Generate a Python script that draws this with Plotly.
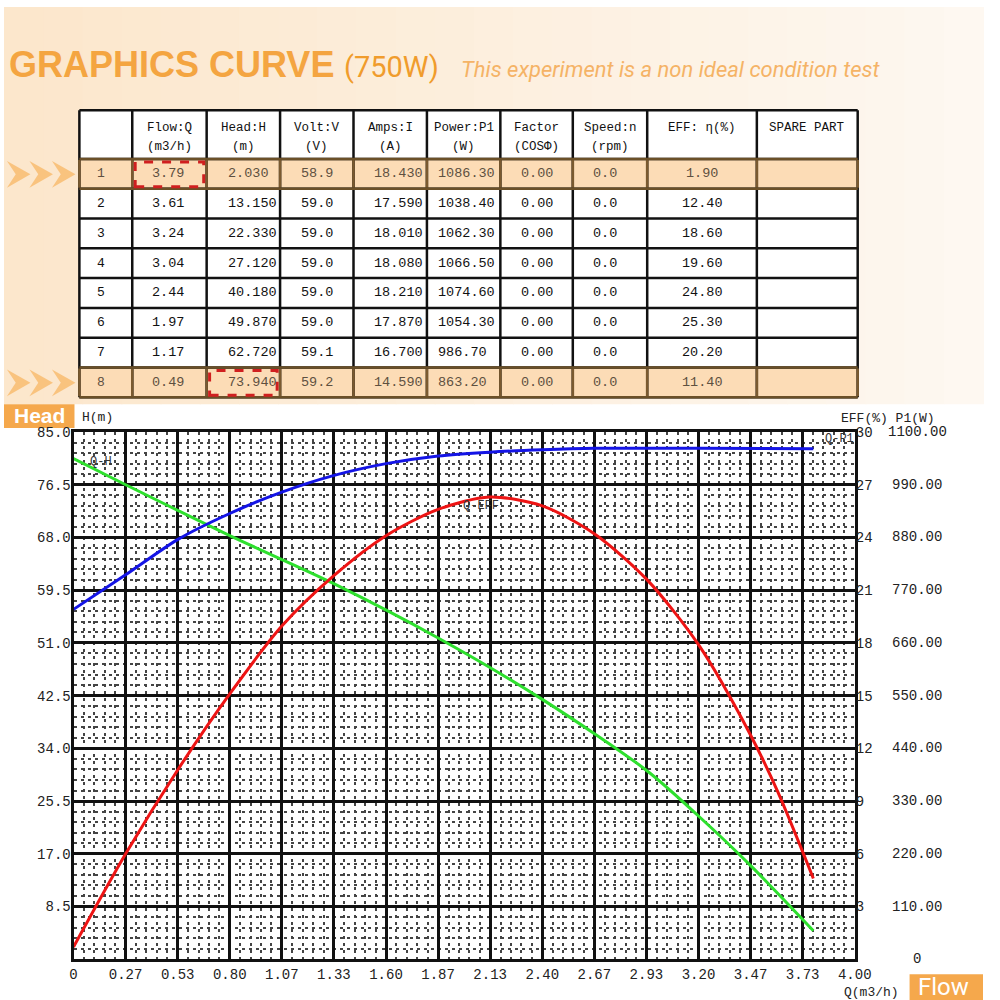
import plotly.graph_objects as go

# ---------------- data ----------------
row_no = [1, 2, 3, 4, 5, 6, 7, 8]
flow = [3.79, 3.61, 3.24, 3.04, 2.44, 1.97, 1.17, 0.49]
head = [2.030, 13.150, 22.330, 27.120, 40.180, 49.870, 62.720, 73.940]
volt = [58.9, 59.0, 59.0, 59.0, 59.0, 59.0, 59.1, 59.2]
amps = [18.430, 17.590, 18.010, 18.080, 18.210, 17.870, 16.700, 14.590]
power = [1086.30, 1038.40, 1062.30, 1066.50, 1074.60, 1054.30, 986.70, 863.20]
factor = [0.00, 0.00, 0.00, 0.00, 0.00, 0.00, 0.00, 0.00]
speed = [0.0, 0.0, 0.0, 0.0, 0.0, 0.0, 0.0, 0.0]
eff = [1.90, 12.40, 18.60, 19.60, 24.80, 25.30, 20.20, 11.40]

headers = [("", ""), ("Flow:Q", "(m3/h)"), ("Head:H", "(m)"), ("Volt:V", "(V)"),
           ("Amps:I", "(A)"), ("Power:P1", "(W)"), ("Factor", "(COSΦ)"),
           ("Speed:n", "(rpm)"), ("EFF: η(%)", ""), ("SPARE PART", "")]

# curves
qh_flow = [0.0, 0.267, 0.80, 1.33, 1.867, 2.40, 2.936, 3.20, 3.467, 3.788]
qh_head = [80.7, 76.5, 68.3, 60.6, 51.8, 41.9, 30.4, 23.1, 15.1, 4.6]

qp_flow = [0.0, 0.267, 0.535, 0.80, 1.07, 1.33, 1.60, 1.867, 2.13, 2.40, 2.668, 3.20, 3.788]
qp_power = [730, 802, 876, 930, 975, 1009, 1034, 1050, 1058, 1063, 1066, 1066, 1065]

qe_flow = [0.0, 0.267, 0.535, 0.80, 1.07, 1.33, 1.60, 1.867, 2.13, 2.40, 2.668,
           2.936, 3.20, 3.467, 3.605, 3.788]
qe_eff = [0.7, 6.0, 10.8, 15.1, 19.0, 21.8, 24.1, 25.6, 26.3, 25.8, 24.2,
          21.6, 17.9, 12.75, 9.55, 4.6]

x_tick_labels = ["0", "0.27", "0.53", "0.80", "1.07", "1.33", "1.60", "1.87", "2.13", "2.40",
                 "2.67", "2.93", "3.20", "3.47", "3.73", "4.00"]
h_tick_labels = ["8.5", "17.0", "25.5", "34.0", "42.5", "51.0", "59.5", "68.0", "76.5", "85.0"]
eff_tick_labels = ["3", "6", "9", "12", "15", "18", "21", "24", "27", "30"]
p1_tick_labels = ["0", "110.00", "220.00", "330.00", "440.00", "550.00", "660.00", "770.00",
                  "880.00", "990.00", "1100.00"]

# ---------------- helpers ----------------
def PX(x):
    return x / 1000.0

def PY(y):
    return 1 - y / 1000.0

shapes = []
annotations = []

def rect(x0, y0, x1, y1, fill=None, line_color=None, line_width=0, dash=None, opacity=1):
    s = dict(type="rect", xref="paper", yref="paper", x0=PX(x0), x1=PX(x1), y0=PY(y1), y1=PY(y0),
             line=dict(width=line_width, color=line_color or "rgba(0,0,0,0)"), opacity=opacity,
             layer="below")
    if fill:
        s["fillcolor"] = fill
    if dash:
        s["line"]["dash"] = dash
        s["layer"] = "above"
    shapes.append(s)

def line(x0, y0, x1, y1, color="#111", width=2.5, layer="above"):
    shapes.append(dict(type="line", xref="paper", yref="paper", x0=PX(x0), x1=PX(x1),
                       y0=PY(y0), y1=PY(y1), line=dict(color=color, width=width), layer=layer))

def text(t, x, y, size=13, color="#111", family="Liberation Mono", xanchor="center",
         yanchor="middle", xref="paper", yref="paper", **kw):
    annotations.append(dict(text=t, x=PX(x) if xref == "paper" else x,
                            y=PY(y) if yref == "paper" else y,
                            xref=xref, yref=yref, showarrow=False, xanchor=xanchor, yanchor=yanchor,
                            font=dict(size=size, color=color, family=family), **kw))

# ---------------- background ----------------
n_strips = 25
c0 = (252, 231, 204)
c1 = (254, 248, 241)
for i in range(n_strips):
    t = i / (n_strips - 1)
    c = tuple(int(c0[k] + (c1[k] - c0[k]) * t) for k in range(3))
    rect(i * 1000 / n_strips, 0, (i + 1) * 1000 / n_strips + 1, 400, fill="rgb(%d,%d,%d)" % c)

# ---------------- title ----------------
text("<b>GRAPHICS CURVE</b>", 3, 58, size=36, color="#f4a541",
     family="Liberation Sans, Arial", xanchor="left")
text("(750W)", 345, 60, size=29, color="#f09c2c", family="Roboto", xanchor="left")
text("<i>This experiment is a non ideal condition test</i>", 465, 63, size=22, color="#f5b366",
     family="Roboto", xanchor="left")

# ---------------- table ----------------
col_x = [77, 131, 207, 282, 357, 432, 507, 581, 657, 769, 872]
row_y = [104, 153, 183, 213, 243, 273, 303, 333, 363, 393]
hl_rows = [0, 7]

rect(col_x[0], row_y[0], col_x[-1], row_y[-1], fill="white")
for r in hl_rows:
    rect(col_x[0], row_y[r + 1], col_x[-1], row_y[r + 2], fill="#fcdcb6")

for x in col_x:
    line(x, row_y[0], x, row_y[-1])
for y in row_y:
    line(col_x[0], y, col_x[-1], y)
for r in hl_rows:
    ya, yb = row_y[r + 1], row_y[r + 2]
    for x in col_x:
        line(x, ya + 1, x, yb - 1, color="#7a5a30", width=2.5)
    line(col_x[0], ya, col_x[-1], ya, color="#6b5028", width=2.5)
    line(col_x[0], yb, col_x[-1], yb, color="#6b5028", width=2.5)

# red dashed boxes
rect(134, 156, 204, 181, line_color="#d01f1f", line_width=3, dash="dash")
rect(210, 366, 279, 391, line_color="#d01f1f", line_width=3, dash="dash")

# chevrons
for (ya, yb) in [(155, 182), (365, 392)]:
    yc = (ya + yb) / 2
    for x0 in [3, 26, 49]:
        w = 24
        notch = 9
        path = "M %f,%f L %f,%f L %f,%f L %f,%f Z" % (
            PX(x0), PY(ya), PX(x0 + w), PY(yc), PX(x0), PY(yb), PX(x0 + notch), PY(yc))
        shapes.append(dict(type="path", xref="paper", yref="paper", path=path,
                           fillcolor="#f8bf76", line=dict(width=0), opacity=0.9, layer="above"))

# headers
for i, (h1, h2) in enumerate(headers):
    cx = (col_x[i] + col_x[i + 1]) / 2
    if h2:
        text(h1, cx, 122, size=12.5)
        text(h2, cx, 141, size=12.5)
    elif h1:
        text(h1, cx, 122, size=12.5)

# body
fmt_cols = [
    (flow, "%.2f", 149, "left"),
    (head, "%.3f", 227, "left"),
    (volt, "%.1f", 301, "left"),
    (amps, "%.3f", 376, "left"),
    (power, "%.2f", 441, "left"),
    (factor, "%.2f", 526, "left"),
    (speed, "%.1f", 600, "left"),
    (eff, "%.2f", 713, "center"),
]
for r in range(len(row_no)):
    yc = (row_y[r + 1] + row_y[r + 2]) / 2
    col = "#5e5040" if r in hl_rows else "#111"
    text(str(row_no[r]), 99, yc, size=13, color=col)
    for vals, f, x, anc in fmt_cols:
        text(f % vals[r], x, yc, size=13.5, color=col, xanchor=anc)

# ---------------- chart labels ----------------
rect(0, 400, 72, 424, fill="#f5a84c")
text("<b>Head</b>", 36, 411, size=21, color="white", family="Liberation Sans, Arial")
rect(925, 974, 1000, 1000, fill="#f5a84c")
text("Flow", 960, 987, size=24, color="white", family="Roboto")

text("H(m)", 78, 413, size=13, color="#222", xanchor="left")
text("EFF(%) P1(W)", 953, 414, size=13, color="#222", xanchor="right")
text("Q(m3/h)", 916, 992, size=13, color="#222", xanchor="right")

# curve labels (data coordinates)
text("Q-H", 0.14, 80.2, size=12, color="#333", xref="x", yref="y")
text("Q-EFF", 2.085, 25.8, size=12, color="#333", xref="x", yref="y2")
text("Q-P1", 3.92, 1085, size=12, color="#333", xref="x", yref="y3")

# P1 tick labels on the far right
for lab in p1_tick_labels:
    v = float(lab)
    annotations.append(dict(text=lab, x=PX(933), y=v, xref="paper", yref="y3", showarrow=False,
                            xanchor="center", yanchor="middle",
                            font=dict(size=14, color="#222", family="Liberation Mono")))

# ---------------- figure ----------------
fig = go.Figure()
fig.add_trace(go.Scatter(x=qh_flow, y=qh_head, mode="lines",
                         line=dict(color="#2ee02e", width=3, shape="spline", smoothing=0.8),
                         yaxis="y", name="Q-H"))
fig.add_trace(go.Scatter(x=qp_flow, y=qp_power, mode="lines",
                         line=dict(color="#1414e6", width=3, shape="spline", smoothing=0.8),
                         yaxis="y3", name="Q-P1"))
fig.add_trace(go.Scatter(x=qe_flow, y=qe_eff, mode="lines",
                         line=dict(color="#ee1414", width=3, shape="spline", smoothing=0.8),
                         yaxis="y2", name="Q-EFF"))

n_x = len(x_tick_labels) - 1
x_major = [4.0 * i / n_x for i in range(n_x + 1)]
x_minor = [4.0 * i / (n_x * 5) for i in range(n_x * 5 + 1) if i % 5]
h_major = [float(v) for v in h_tick_labels]
h_minor = [85.0 * i / 50 for i in range(51) if i % 5]
eff_vals = [float(v) for v in eff_tick_labels]

tickfont = dict(size=14, color="#222", family="Liberation Mono")
grid_minor = dict(showgrid=True, gridcolor="#444", gridwidth=1.5, griddash="3px,4px", ticks="")

fig.update_layout(
    width=1000, height=1000, autosize=False,
    margin=dict(l=0, r=0, t=0, b=0),
    paper_bgcolor="white", plot_bgcolor="white",
    showlegend=False,
    shapes=shapes, annotations=annotations,
    xaxis=dict(domain=[PX(71), PX(869)], range=[0, 4], tickvals=x_major, ticktext=x_tick_labels,
               showgrid=True, gridcolor="#111", gridwidth=2.5, zeroline=False,
               showline=True, linecolor="#111", linewidth=3, mirror=True,
               ticks="", tickfont=tickfont, ticklabelstandoff=0,
               minor=dict(tickvals=x_minor, **grid_minor), fixedrange=True),
    yaxis=dict(domain=[PY(959), PY(428)], range=[0, 85], tickvals=h_major, ticktext=h_tick_labels,
               showgrid=True, gridcolor="#111", gridwidth=2.5, zeroline=False,
               showline=True, linecolor="#111", linewidth=3, mirror=True,
               ticks="", tickfont=tickfont, ticklabelstandoff=-3,
               minor=dict(tickvals=h_minor, **grid_minor), fixedrange=True),
    yaxis2=dict(overlaying="y", side="right", range=[0, 30], tickvals=eff_vals, ticktext=eff_tick_labels,
                showgrid=False, zeroline=False, showline=False, ticks="", tickfont=tickfont,
                anchor="x", fixedrange=True),
    yaxis3=dict(overlaying="y", range=[0, 1100], visible=False, fixedrange=True),
)

post = (
    "document.documentElement.style.overflow='hidden';"
    "document.body.style.margin='0';document.body.style.padding='0';"
)
fig.write_html("out.html", config={"responsive": False, "displayModeBar": False}, post_script=post)
